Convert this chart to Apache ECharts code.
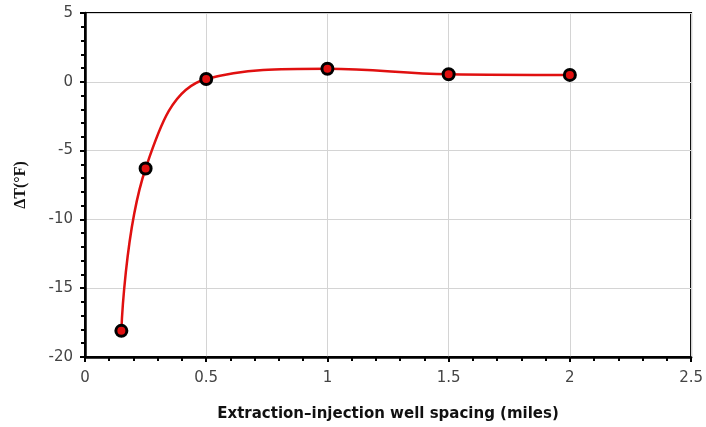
<!DOCTYPE html>
<html>
<head>
<meta charset="utf-8">
<script src="https://cdn.jsdelivr.net/npm/echarts@6/dist/echarts.min.js"></script>
<style>
  html, body { margin: 0; padding: 0; background: #fff; }
  #chart { width: 706px; height: 427px; }
</style>
</head>
<body>
<div id="chart"></div>
<script>
// well spacing (miles) vs temperature change
var spacing = [0.15, 0.25, 0.5, 1, 1.5, 2];
var deltaT = [-18.1, -6.3, 0.2, 0.95, 0.55, 0.5];

var points = spacing.map(function (x, i) { return [x, deltaT[i]]; });

var chart = echarts.init(document.getElementById("chart"));

chart.setOption({
  animation: false,
  grid: {
    left: 85,
    right: 14,
    top: 13,
    bottom: 68,
    show: true,
    borderColor: "#000",
    borderWidth: 2,
  },
  xAxis: {
    type: "value",
    min: 0,
    max: 2.5,
    interval: 0.5,
    name: "Extraction\u2013injection well spacing (miles)",
    nameLocation: "middle",
    nameGap: 50,
    nameTextStyle: {
      fontFamily: "DejaVu Sans",
      fontWeight: "bold",
      fontSize: 15,
      color: "#111",
    },
    axisLine: { show: true, onZero: false, lineStyle: { color: "#000", width: 2.5 } },
    axisTick: { show: true, inside: false, length: 5, lineStyle: { color: "#000", width: 2 } },
    minorTick: { show: true, splitNumber: 5, length: 4, lineStyle: { color: "#000", width: 2 } },
    axisLabel: { fontFamily: "DejaVu Sans", fontSize: 15, color: "#444", margin: 14 },
    splitLine: { show: true, lineStyle: { color: "#d4d4d4", width: 1 } },
  },
  yAxis: {
    type: "value",
    min: -20,
    max: 5,
    interval: 5,
    name: "\u0394T(\u00b0F)",
    nameLocation: "middle",
    nameGap: 56,
    nameTextStyle: {
      fontFamily: "Liberation Serif",
      fontWeight: "bold",
      fontSize: 16,
      color: "#111",
    },
    axisLine: { show: true, onZero: false, lineStyle: { color: "#000", width: 2.5 } },
    axisTick: { show: true, inside: false, length: 5, lineStyle: { color: "#000", width: 2 } },
    minorTick: { show: true, splitNumber: 5, length: 4, lineStyle: { color: "#000", width: 2 } },
    axisLabel: { fontFamily: "DejaVu Sans", fontSize: 15, color: "#444", margin: 12 },
    splitLine: { show: true, lineStyle: { color: "#d4d4d4", width: 1 } },
  },
  series: [
    {
      type: "line",
      data: points,
      smooth: 0.4,
      symbol: "circle",
      symbolSize: 11,
      lineStyle: { color: "#e01010", width: 2.5 },
      itemStyle: { color: "#e01010", borderColor: "#000", borderWidth: 3 },
    },
  ],
});
</script>
</body>
</html>
